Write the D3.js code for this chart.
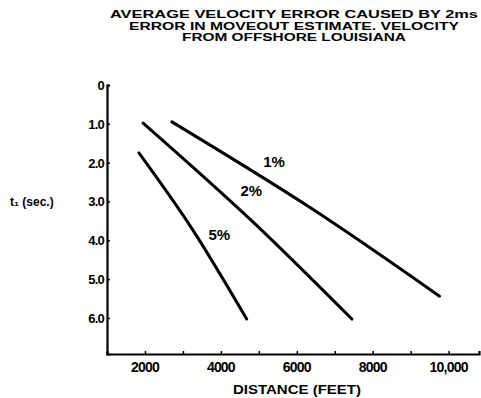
<!DOCTYPE html>
<html>
<head>
<meta charset="utf-8">
<script src="https://cdn.jsdelivr.net/npm/d3@7"></script>
<style>
  body { margin: 0; background: #fff; }
  svg { display: block; }
  text { font-family: "Liberation Sans", Arial, sans-serif; font-weight: bold; fill: #000; }
</style>
</head>
<body>
<svg id="chart" width="481" height="398"></svg>
<script>
// data (distance in feet, t1 in seconds)
var titleLines = ["AVERAGE VELOCITY ERROR CAUSED BY 2ms",
                  "ERROR IN MOVEOUT ESTIMATE. VELOCITY",
                  "FROM OFFSHORE LOUISIANA"];
var series1 = [[2710, 0.95], [6340, 3.15], [9760, 5.44]];
var series2 = [[1950, 0.98], [4760, 3.45], [7450, 6.03]];
var series5 = [[1840, 1.75], [3250, 3.72], [4680, 6.03]];
var seriesLabels = ["1%", "2%", "5%"];
var labelPoints = [[5400, 2.12], [4800, 2.85], [3960, 4.0]];
var xTicks = [2000, 4000, 6000, 8000, 10000];
var xTickLabels = ["2000", "4000", "6000", "8000", "10,000"];
var yTicks = [0, 1, 2, 3, 4, 5, 6];
var yTickLabels = ["0", "1.0", "2.0", "3.0", "4.0", "5.0", "6.0"];

var svg = d3.select("#chart");

var x = d3.scaleLinear().domain([1000, 10800]).range([107, 479]);
var y = d3.scaleLinear().domain([0, 6.93]).range([85, 354]);

// title
var titleWidths = [368, 330, 224];
var titleY = [18, 29.5, 41];
titleLines.forEach(function (t, i) {
    svg.append("text")
        .attr("x", 294)
        .attr("y", titleY[i])
        .attr("text-anchor", "middle")
        .attr("font-size", 10)
        .attr("textLength", titleWidths[i])
        .attr("lengthAdjust", "spacingAndGlyphs")
        .text(t);
});

// axes
var xAxis = d3.axisTop(x)
    .tickValues(d3.range(2000, 10001, 1000))
    .tickSize(3)
    .tickFormat("");
var gx = svg.append("g")
    .attr("transform", "translate(0," + y.range()[1] + ")")
    .call(xAxis);
var yAxis = d3.axisRight(y)
    .tickValues(yTicks)
    .tickSize(3)
    .tickFormat("");
var gy = svg.append("g")
    .attr("transform", "translate(" + x.range()[0] + ",0)")
    .call(yAxis);
[gx, gy].forEach(function (g) {
    g.select(".domain").attr("stroke", "#000").attr("stroke-width", 2.2);
    g.selectAll(".tick line").attr("stroke", "#000").attr("stroke-width", 1.5);
});

// x tick labels
svg.selectAll(".xlab")
    .data(xTicks)
    .enter().append("text")
    .attr("class", "xlab")
    .attr("x", function (d) { return x(d); })
    .attr("y", 372)
    .attr("text-anchor", "middle")
    .attr("font-size", 14)
    .attr("letter-spacing", -0.8)
    .text(function (d, i) { return xTickLabels[i]; });

// y tick labels
svg.selectAll(".ylab")
    .data(yTicks)
    .enter().append("text")
    .attr("class", "ylab")
    .attr("x", 104)
    .attr("y", function (d) { return y(d) + 5; })
    .attr("text-anchor", "end")
    .attr("font-size", 13)
    .attr("letter-spacing", -0.8)
    .text(function (d, i) { return yTickLabels[i]; });

svg.append("text")
    .attr("x", 297)
    .attr("y", 394)
    .attr("text-anchor", "middle")
    .attr("font-size", 13)
    .attr("textLength", 128)
    .attr("lengthAdjust", "spacingAndGlyphs")
    .text("DISTANCE (FEET)");

svg.append("text")
    .attr("x", 10)
    .attr("y", y(3) + 5)
    .attr("font-size", 12)
    .text("t\u2081  (sec.)");

// curves
var line = d3.line()
    .x(function (d) { return x(d[0]); })
    .y(function (d) { return y(d[1]); })
    .curve(d3.curveNatural);

[series1, series2, series5].forEach(function (s) {
    svg.append("path")
        .datum(s)
        .attr("d", line)
        .attr("fill", "none")
        .attr("stroke", "#000")
        .attr("stroke-width", 3)
        .attr("stroke-linecap", "round");
});

svg.selectAll(".slab")
    .data(labelPoints)
    .enter().append("text")
    .attr("class", "slab")
    .attr("x", function (d) { return x(d[0]); })
    .attr("y", function (d) { return y(d[1]); })
    .attr("text-anchor", "middle")
    .attr("font-size", 15)
    .text(function (d, i) { return seriesLabels[i]; });
</script>
</body>
</html>
